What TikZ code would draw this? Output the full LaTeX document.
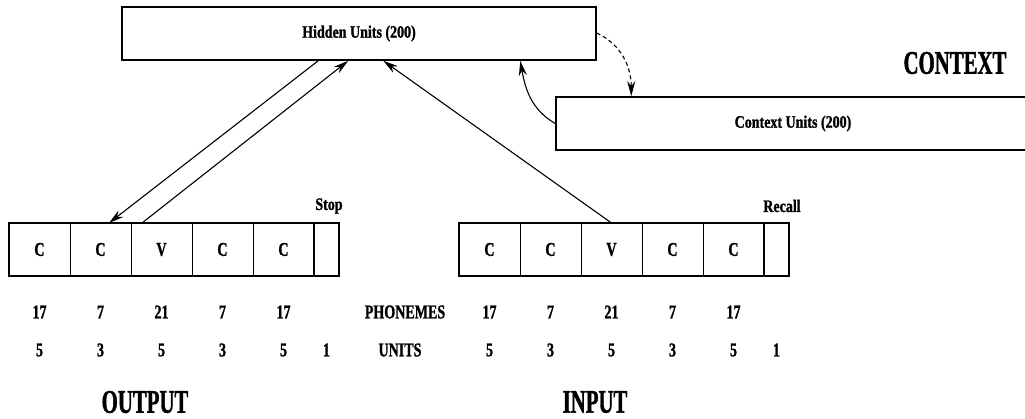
\documentclass[tikz,border=0pt]{standalone}
\usepackage{fontspec}
\newfontfamily\lblfont[FakeStretch=0.8,FakeBold=1.2]{Liberation Serif Bold}
\newfontfamily\numfont[FakeStretch=0.72,FakeBold=1.2]{Liberation Serif Bold}
\newfontfamily\headfont[FakeStretch=0.63,FakeBold=1.2]{Liberation Serif Bold}
\usetikzlibrary{arrows.meta,positioning}

\tikzset{
	lbl/.style={font=\lblfont\fontsize{17.5}{20}\selectfont, inner sep=1pt},
	num/.style={font=\numfont\fontsize{19.5}{22}\selectfont, inner sep=1pt},
	head/.style={font=\headfont\fontsize{33}{36}\selectfont, inner sep=1pt},
	layer/.style={lbl, draw, line width=1.5pt, minimum width=474, minimum height=53, inner sep=0pt},
	cell/.style={num, draw, line width=0.8pt, minimum width=61, minimum height=53, inner sep=0pt, outer sep=0pt},
	frame/.style={line width=1.8pt},
	conn/.style={line width=1.1pt, -{Stealth[length=15pt,width=8pt]}}
}

\begin{document}
\begin{tikzpicture}[x=1pt,y=-1pt]
	\clip (0,0) rectangle (1025,419);

	\node[layer] (hidden) at (359,33.5) {Hidden Units (200)};
	\node[layer] (ctx) at (793,123.5) {Context Units (200)};
	\node[head] (ctxlbl) at (955,63) {CONTEXT};

	% output and input rows
	\foreach \s/\x in {o/9,i/459} {
		\foreach \ph/\n/\u [count=\i] in {C/17/5,C/7/3,V/21/5,C/7/3,C/17/5} {
			\node[cell] (\s\i) at ({\x+61*\i-30.5},249.5) {\ph};
			\node[num] (\s\i-n) at ({\x+61*\i-30.5},312) {\n};
			\node[num] (\s\i-u) at ({\x+61*\i-30.5},350) {\u};
		}
		\node[cell, minimum width=25, right=0pt of \s5] (\s6) {};
		\node[num] (\s6-u) at (\s6 |- \s5-u) {1};
		\draw[frame] (\s1.north west) rectangle (\s6.south east);
		\draw[frame] (\s6.north west) -- (\s6.south west);
	}

	\node[lbl] (stop) at (329,206) {Stop};
	\node[lbl] (recall) at (782,206) {Recall};
	\node[num] (phon) at (405,312) {PHONEMES};
	\node[num] (units) at (400,350) {UNITS};
	\node[head] (outlbl) at (145,402) {OUTPUT};
	\node[head] (inlbl) at (595,402) {INPUT};

	% connections
	\draw[conn] ([xshift=197]hidden.south west) -- ([xshift=8.5]o2.north);
	\draw[conn] ([xshift=11]o3.north west) -- ([xshift=227]hidden.south west);
	\draw[conn] (i3.north) -- ([xshift=262]hidden.south west);
	\draw[conn] (ctx.west) to[out=150,in=-80] ([xshift=399]hidden.south west);
	\draw[conn, dash pattern=on 4pt off 3pt] ([yshift=0.5]hidden.east) to[out=-25,in=90] ([xshift=76]ctx.north west);
\end{tikzpicture}
\end{document}
